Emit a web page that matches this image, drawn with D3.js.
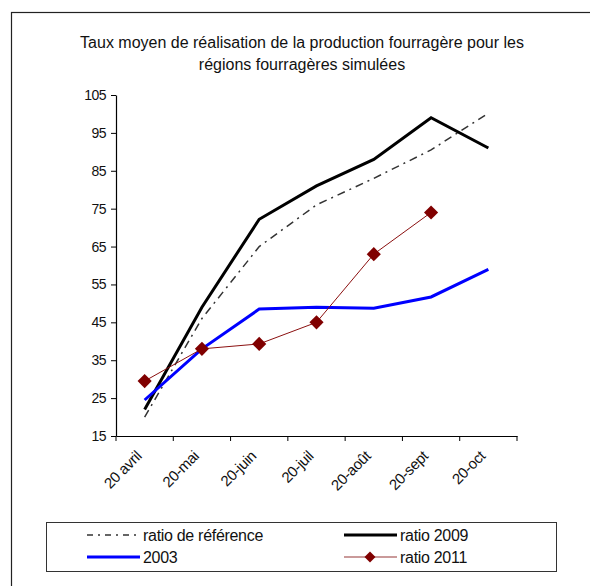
<!DOCTYPE html>
<html>
<head>
<meta charset="utf-8">
<script src="https://cdn.jsdelivr.net/npm/d3@7"></script>
<style>
  body { margin: 0; background: white; }
  text { font-family: "Liberation Sans", Arial, sans-serif; fill: #111; }
</style>
</head>
<body>
<div id="chart"></div>
<script>
// Data
const months = ["20 avril", "20-mai", "20-juin", "20-juil", "20-août", "20-sept", "20-oct"];
const ratioRef = [20, 46, 65, 76, 83, 90.5, 100.2];
const ratio2009 = [22, 49, 72.2, 81, 88, 99, 91];
const y2003 = [24.5, 38, 48.5, 49, 48.7, 51.7, 59];
const ratio2011 = [29.5, 38, 39.3, 45, 63, 74];
const yTicks = [15, 25, 35, 45, 55, 65, 75, 85, 95, 105];

let width = 590, height = 586;
let margin = { top: 95, bottom: 150, left: 116, right: 73 };

let svg = d3.select("#chart")
    .append("svg")
    .attr("width", width)
    .attr("height", height)
    .style("background", "white");

// Outer frame (runs off the right and bottom of the picture)
svg.append("rect")
    .attr("x", 11.5)
    .attr("y", 12.5)
    .attr("width", 600)
    .attr("height", 600)
    .attr("fill", "none")
    .attr("stroke", "#222")
    .attr("stroke-width", 1.2);

// Title
svg.append("text")
    .attr("x", 302)
    .attr("y", 48)
    .attr("text-anchor", "middle")
    .style("font-size", "16px")
    .text("Taux moyen de réalisation de la production fourragère pour les");
svg.append("text")
    .attr("x", 302)
    .attr("y", 70)
    .attr("text-anchor", "middle")
    .style("font-size", "16px")
    .text("régions fourragères simulées");

// Scales
let xScale = d3.scaleBand()
    .domain(months)
    .range([margin.left, width - margin.right]);

let yScale = d3.scaleLinear()
    .domain([15, 105])
    .range([height - margin.bottom, margin.top]);

// Axes
let xAxis = svg.append("g")
    .attr("transform", `translate(0,${height - margin.bottom})`)
    .call(d3.axisBottom(xScale).tickSize(5).tickSizeOuter(0).tickFormat(""));

// ticks at band edges like Excel
xAxis.selectAll(".tick").remove();
months.concat([null]).forEach((m, i) => {
    let x = m === null ? xScale.range()[1] : xScale(m);
    xAxis.append("line")
        .attr("x1", x).attr("x2", x)
        .attr("y1", 0).attr("y2", 5)
        .attr("stroke", "black");
});

xAxis.selectAll(".label")
    .data(months)
    .enter()
    .append("text")
    .attr("class", "label")
    .attr("transform", d => `translate(${xScale(d) + xScale.bandwidth() / 2 - 2},${21}) rotate(-45)`)
    .attr("text-anchor", "end")
    .style("font-size", "15px")
    .style("letter-spacing", "-0.3px")
    .text(d => d);

let yAxis = svg.append("g")
    .attr("transform", `translate(${margin.left},0)`)
    .call(d3.axisLeft(yScale).tickValues(yTicks).tickSize(5).tickSizeOuter(0));
yAxis.selectAll("text")
    .style("font-size", "14px")
    .style("letter-spacing", "-0.5px")
    .attr("dx", "-2");
svg.selectAll(".domain").attr("stroke", "black").attr("stroke-width", 1.2);
svg.selectAll(".tick line").attr("stroke", "black");

const xc = (d, i) => xScale(months[i]) + xScale.bandwidth() / 2;

let line = d3.line()
    .x(xc)
    .y(d => yScale(d));

// ratio de référence
svg.append("path")
    .datum(ratioRef)
    .attr("d", line)
    .attr("fill", "none")
    .attr("stroke", "#333")
    .attr("stroke-width", 1.5)
    .attr("stroke-dasharray", "8,5,2,5");

// ratio 2009
svg.append("path")
    .datum(ratio2009)
    .attr("d", line)
    .attr("fill", "none")
    .attr("stroke", "black")
    .attr("stroke-width", 3);

// 2003
svg.append("path")
    .datum(y2003)
    .attr("d", line)
    .attr("fill", "none")
    .attr("stroke", "#0000ff")
    .attr("stroke-width", 3);

// ratio 2011
svg.append("path")
    .datum(ratio2011)
    .attr("d", line)
    .attr("fill", "none")
    .attr("stroke", "#8b1010")
    .attr("stroke-width", 1);

svg.selectAll(".pt")
    .data(ratio2011)
    .enter()
    .append("path")
    .attr("class", "pt")
    .attr("transform", (d, i) => `translate(${xc(d, i)},${yScale(d)}) rotate(45)`)
    .attr("d", d3.symbol().type(d3.symbolSquare).size(100))
    .attr("fill", "#800000");

// Legend
svg.append("rect")
    .attr("x", 46.5)
    .attr("y", 522.5)
    .attr("width", 510)
    .attr("height", 49)
    .attr("fill", "white")
    .attr("stroke", "#333")
    .attr("stroke-width", 1);

const legendItems = [
    { name: "ratio de référence", x: 87, y: 535, stroke: "#333", w: 1.5, dash: "6,5,2,5" },
    { name: "ratio 2009", x: 344, y: 535, stroke: "black", w: 3, dash: null },
    { name: "2003", x: 87, y: 557, stroke: "#0000ff", w: 3, dash: null },
    { name: "ratio 2011", x: 344, y: 557, stroke: "#b87878", w: 1.5, dash: null, marker: true }
];

legendItems.forEach(item => {
    svg.append("line")
        .attr("x1", item.x)
        .attr("x2", item.x + 53)
        .attr("y1", item.y)
        .attr("y2", item.y)
        .attr("stroke", item.stroke)
        .attr("stroke-width", item.w)
        .attr("stroke-dasharray", item.dash);
    if (item.marker) {
        svg.append("path")
            .attr("transform", `translate(${item.x + 26},${item.y}) rotate(45)`)
            .attr("d", d3.symbol().type(d3.symbolSquare).size(60))
            .attr("fill", "#800000");
    }
    svg.append("text")
        .attr("x", item.x + 56)
        .attr("y", item.y + 5.5)
        .style("font-size", "16px")
        .style("letter-spacing", "-0.3px")
        .text(item.name);
});
</script>
</body>
</html>
